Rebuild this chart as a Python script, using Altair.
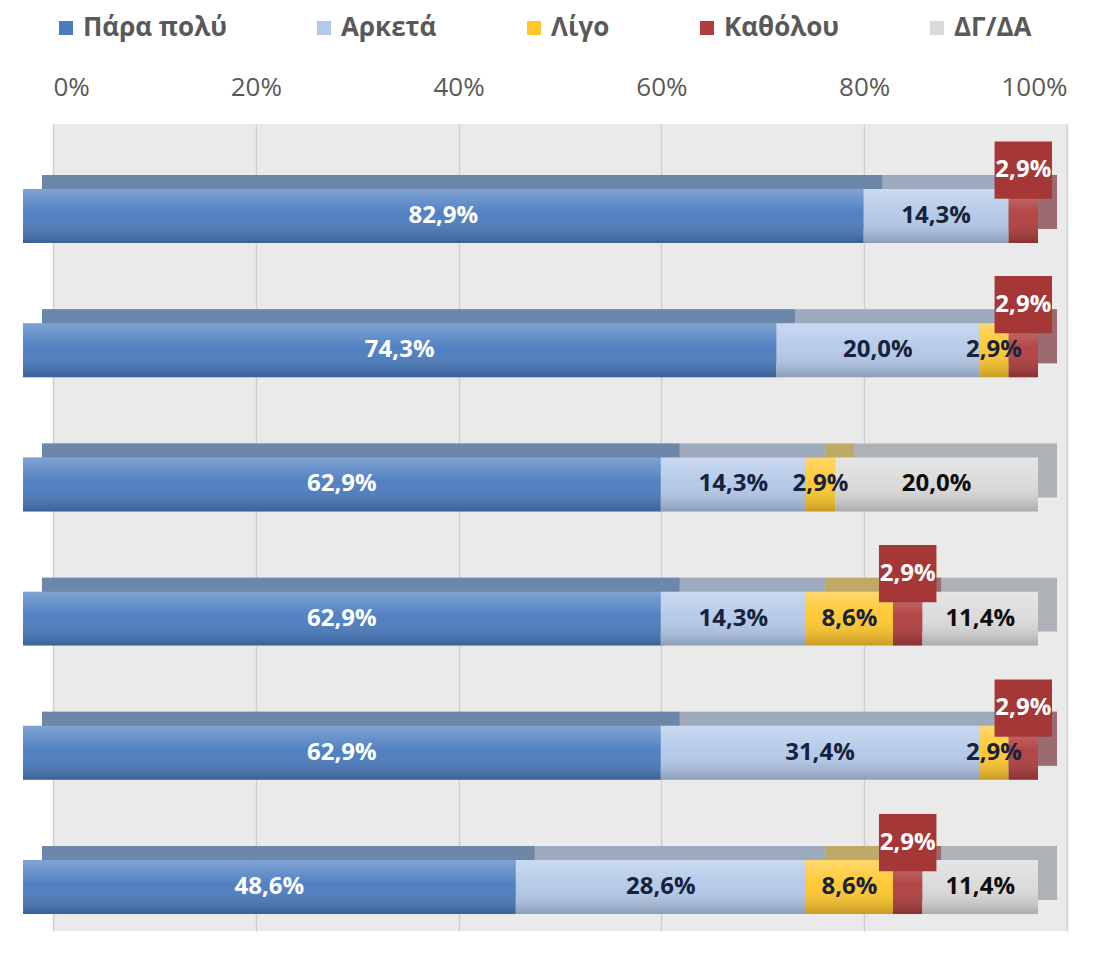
import altair as alt
import pandas as pd

categories = ["Πάρα πολύ", "Αρκετά", "Λίγο", "Καθόλου", "ΔΓ/ΔΑ"]
rows = ["r1", "r2", "r3", "r4", "r5", "r6"]
para_poly = [82.9, 74.3, 62.9, 62.9, 62.9, 48.6]
arketa = [14.3, 20.0, 14.3, 14.3, 31.4, 28.6]
ligo = [0.0, 2.9, 2.9, 8.6, 2.9, 8.6]
katholou = [2.9, 2.9, 0.0, 2.9, 2.9, 2.9]
dg_da = [0.0, 0.0, 20.0, 11.4, 0.0, 11.4]
ticks = [0, 20, 40, 60, 80, 100]

front_colors = ["#4A7CC0", "#B3C9E9", "#FFC72C", "#B03E3E", "#DADADA"]

series = [para_poly, arketa, ligo, katholou, dg_da]
recs = []
for ci, (cat, vals) in enumerate(zip(categories, series)):
    for r, v in zip(rows, vals):
        recs.append({"bar": r, "cat": cat, "ord": ci, "val": v,
                     "lbl": f"{v:.1f}%".replace(".", ",")})
df = pd.DataFrame(recs)
tick_df = pd.DataFrame({"tick": ticks})

W, H = 1014, 807
FONT = "Open Sans"

# front faces sit 30px left of the back-wall grid (3D depth)
front_x = alt.Scale(domain=[2.96, 102.96], nice=False, zero=False)
top_x = alt.Scale(domain=[1.085, 101.085], nice=False, zero=False)
grid_x = alt.Scale(domain=[0, 100], nice=False)


def band_y(align):
    return alt.Scale(type="band", domain=rows, paddingInner=0.598,
                     paddingOuter=0.3057, align=align)


front_y = band_y(0.793)
top_y = band_y(0.622)
box_y = alt.Scale(type="band", domain=rows, paddingInner=0, paddingOuter=0)

color_scale = alt.Scale(domain=categories, range=front_colors)
legend = alt.Legend(
    title=None, orient="top", offset=33, columnPadding=84,
    symbolType="square", symbolSize=196,
    labelFontSize=26, labelFont=FONT,
    labelFontWeight="bold", labelColor="#595959")

axis_layer = alt.Chart(tick_df).mark_point(opacity=0).encode(
    x=alt.X("tick:Q", scale=grid_x, title=None,
            axis=alt.Axis(orient="top", values=ticks, labelExpr="datum.value + '%'",
                          grid=True, gridColor="#D0D0D0", gridWidth=1.5,
                          ticks=False, domain=False, labelPadding=24,
                          labelFontSize=26, labelColor="#595959", labelFont=FONT)),
)

base = alt.Chart(df).transform_filter("datum.val > 0").transform_window(
    x1="sum(val)", groupby=["bar"], sort=[alt.SortField("ord")], frame=[None, 0]
).transform_calculate(x0="datum.x1 - datum.val", mid="datum.x1 - datum.val / 2")

top = base.mark_bar().encode(
    x=alt.X("x0:Q", scale=top_x, axis=None, title=None), x2="x1:Q",
    y=alt.Y("bar:N", scale=top_y, axis=None),
    color=alt.Color("cat:N", scale=color_scale, legend=legend),
)

top_shade = base.mark_bar(color="#8A8F99", opacity=0.55).encode(
    x=alt.X("x0:Q", scale=top_x, axis=None, title=None), x2="x1:Q",
    y=alt.Y("bar:N", scale=top_y, axis=None),
)

front = base.mark_bar().encode(
    x=alt.X("x0:Q", scale=front_x, axis=None, title=None), x2="x1:Q",
    y=alt.Y("bar:N", scale=front_y, axis=None),
    color=alt.Color("cat:N", scale=color_scale, legend=legend),
)

sheen = base.mark_bar(
    color=alt.Gradient(
        gradient="linear", x1=0, y1=0, x2=0, y2=1,
        stops=[alt.GradientStop(offset=0, color="rgba(255,255,255,0.30)"),
               alt.GradientStop(offset=0.45, color="rgba(255,255,255,0.04)"),
               alt.GradientStop(offset=1, color="rgba(0,0,0,0.22)")],
    )
).encode(
    x=alt.X("x0:Q", scale=front_x, axis=None, title=None), x2="x1:Q",
    y=alt.Y("bar:N", scale=front_y, axis=None),
)

labels_w = base.transform_filter("datum.ord == 0").mark_text(
    font=FONT, fontSize=24, fontWeight="bold", color="#FFFFFF",
).encode(x=alt.X("mid:Q", scale=front_x, axis=None, title=None),
         y=alt.Y("bar:N", scale=front_y, axis=None), text="lbl:N")

labels_d = base.transform_filter("datum.ord == 1 || datum.ord == 2").mark_text(
    font=FONT, fontSize=24, fontWeight="bold", color="#17223B",
).encode(x=alt.X("mid:Q", scale=front_x, axis=None, title=None),
         y=alt.Y("bar:N", scale=front_y, axis=None), text="lbl:N")

labels_k = base.transform_filter("datum.ord == 4").mark_text(
    font=FONT, fontSize=24, fontWeight="bold", color="#0D0D0D",
).encode(x=alt.X("mid:Q", scale=front_x, axis=None, title=None),
         y=alt.Y("bar:N", scale=front_y, axis=None), text="lbl:N")

boxes = base.transform_filter("datum.ord == 3").mark_point(
    shape="square", size=3300, filled=True, color="#A53737", opacity=1,
).encode(x=alt.X("mid:Q", scale=front_x, axis=None, title=None),
         y=alt.Y("bar:N", scale=box_y, axis=None, bandPosition=0.343))

box_text = base.transform_filter("datum.ord == 3").mark_text(
    font=FONT, fontSize=24, fontWeight="bold", color="#FFFFFF",
).encode(x=alt.X("mid:Q", scale=front_x, axis=None, title=None),
         y=alt.Y("bar:N", scale=box_y, axis=None, bandPosition=0.343),
         text="lbl:N")

chart = alt.layer(
    axis_layer, top, top_shade, front, sheen, labels_w, labels_d, labels_k,
    boxes, box_text
).resolve_scale(x="independent", y="independent").properties(
    width=W, height=H,
    padding={"left": 14, "top": 7, "right": 5, "bottom": 5},
).configure_view(stroke=None, fill="#EAEAEA")

chart.save("out.html", embed_options={"renderer": "svg", "actions": False})
